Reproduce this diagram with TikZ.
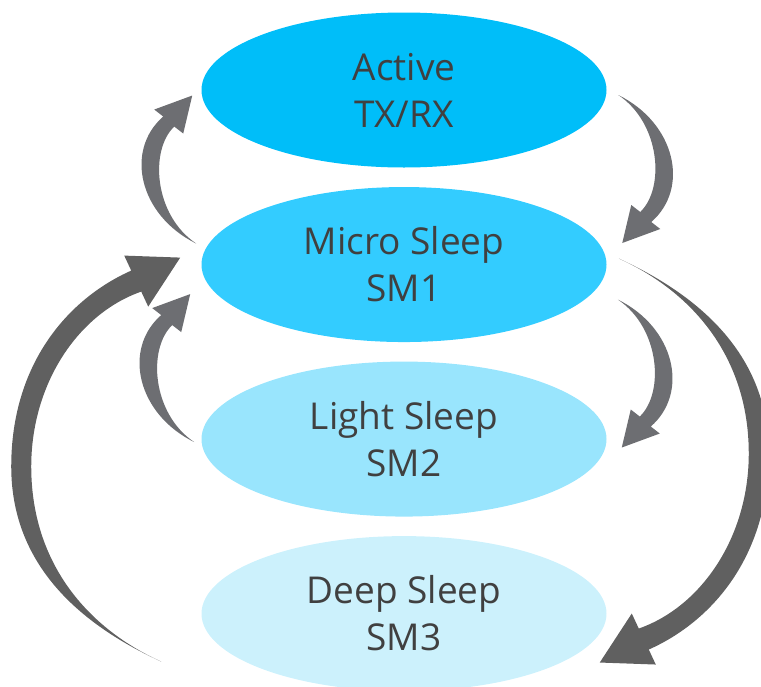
\documentclass[tikz,border=0pt]{standalone}
\usepackage{fontspec}
\setmainfont{Open Sans}
\usetikzlibrary{shapes.geometric,positioning}
\definecolor{activeblue}{HTML}{00BEF9}
\definecolor{microblue}{HTML}{33CCFF}
\definecolor{lightblue}{HTML}{99E5FD}
\definecolor{deepblue}{HTML}{CCF1FC}
\definecolor{labelgray}{HTML}{404040}
\definecolor{smallgray}{HTML}{6D6E72}
\definecolor{biggray}{HTML}{606060}
\tikzset{
	st_node/.style = {ellipse, inner sep=0pt, align=center, text=labelgray,
		minimum width=303.75pt, minimum height=116.25pt,
		font=\fontsize{27.75}{35.25}\selectfont},% sleep mode state
	smallarr/.pic = {% short bent arrow, tail at origin
		\fill[smallgray] (0,0) .. controls (-57,-28) and (-72,-93) .. (-33,-127)
		-- (-42,-134) -- (-4,-148) -- (-13,-110) -- (-22,-117)
		.. controls (-47,-93) and (-42,-28) .. (0,0) -- cycle;
	},
	bigarr/.pic = {% long bent arrow, tail at origin
		\fill[biggray] (0,0) .. controls (-83,-38) and (-150,-98) .. (-150,-195)
		.. controls (-150,-298) and (-93,-363) .. (-30,-391)
		-- (-37,-406) -- (19,-404) -- (-13,-355) -- (-20,-370)
		.. controls (-83,-348) and (-130,-278) .. (-130,-195)
		.. controls (-130,-98) and (-73,-33) .. (0,0) -- cycle;
	}
}
\begin{document}
\begin{tikzpicture}[x=0.75pt,y=-0.75pt]
\useasboundingbox (0,0) rectangle (761,686);
\clip (0,0) rectangle (761,686);
\node [st_node, fill=activeblue] (active) at (404,90) {Active\\TX/RX};
\node [st_node, fill=microblue, below=14.25pt of active] (micro) {Micro Sleep\\SM1};
\node [st_node, fill=lightblue, below=14.25pt of micro] (light) {Light Sleep\\SM2};
\node [st_node, fill=deepblue, below=14.25pt of light] (deep) {Deep Sleep\\SM3};
% tails of the arrows
\coordinate (t1) at ([shift={(-5,-21)}]micro.west);
\coordinate (t2) at ([shift={(11.5,5)}]active.east);
\coordinate (t3) at ([shift={(-7,3)}]light.west);
\coordinate (t4) at ([shift={(11,35)}]micro.east);
\coordinate (t5) at ([shift={(-40,48)}]deep.west);
\coordinate (t6) at ([shift={(12,-6)}]micro.east);
\pic at (t1) {smallarr};
\pic [rotate=180] at (t2) {smallarr};
\pic at (t3) {smallarr};
\pic [rotate=180] at (t4) {smallarr};
\pic at (t5) {bigarr};
\pic [rotate=180] at (t6) {bigarr};
\end{tikzpicture}
\end{document}
